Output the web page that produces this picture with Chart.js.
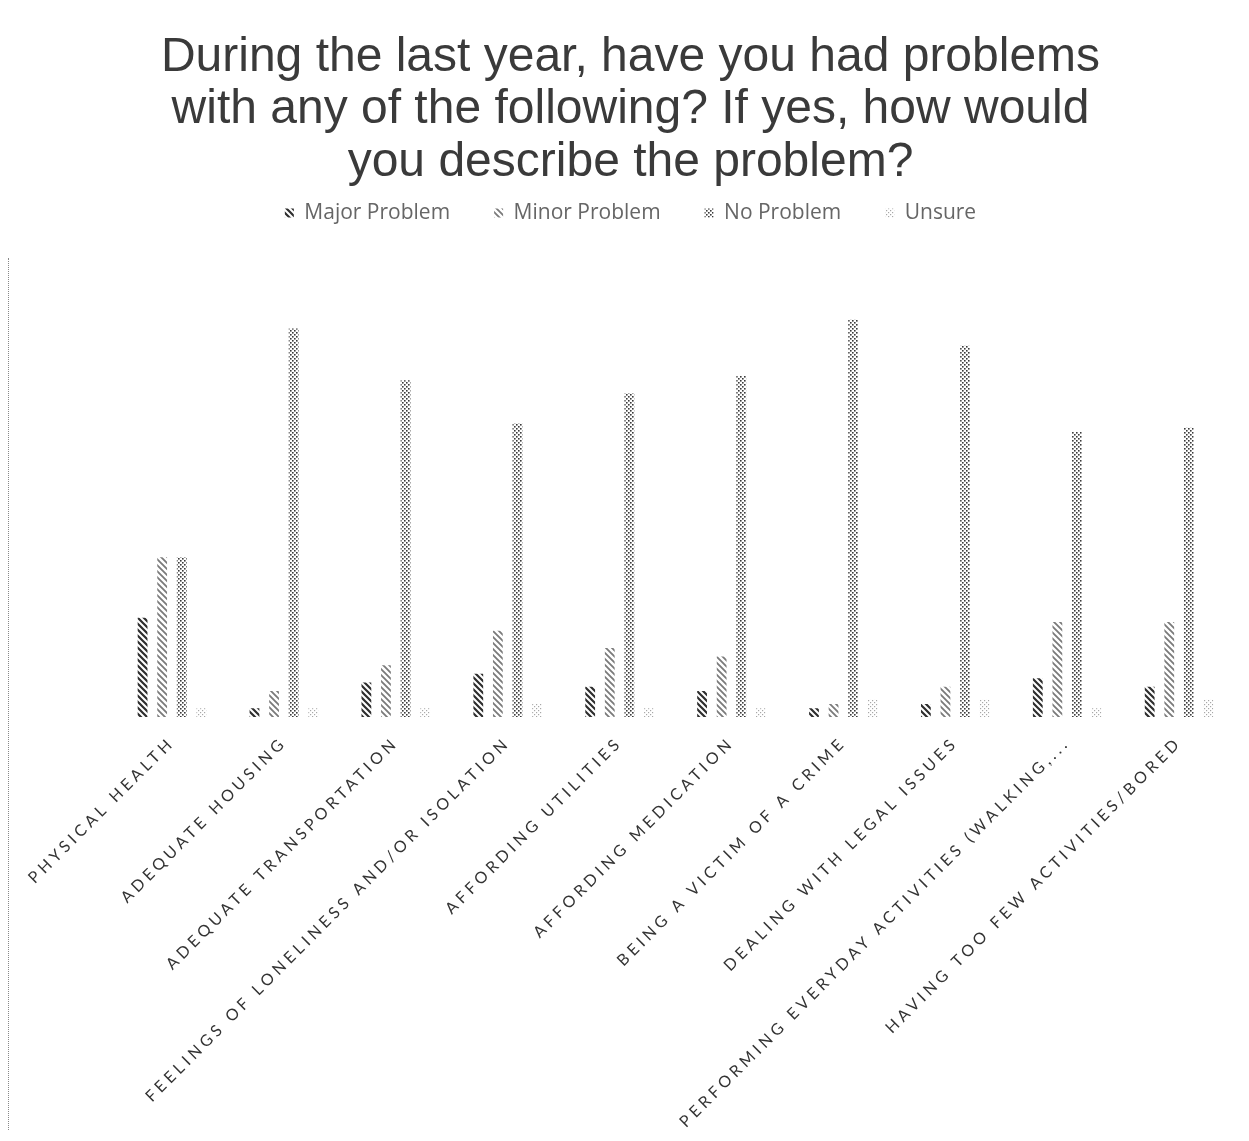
<!DOCTYPE html>
<html>
<head>
<meta charset="utf-8">
<script src="https://cdn.jsdelivr.net/npm/chart.js@4.4.1/dist/chart.umd.min.js"></script>
<style>
  html, body { margin: 0; padding: 0; background: #fff; }
  #wrap { position: relative; width: 1249px; height: 1141px; }
  #edge { position: absolute; left: 8px; top: 258px; height: 872px; border-left: 1px dotted #888; }
</style>
</head>
<body>
<div id="wrap">
  <div id="edge"></div>
  <canvas id="chart"></canvas>
</div>
<script>
const categories = [
  "PHYSICAL HEALTH",
  "ADEQUATE HOUSING",
  "ADEQUATE TRANSPORTATION",
  "FEELINGS OF LONELINESS AND/OR ISOLATION",
  "AFFORDING UTILITIES",
  "AFFORDING MEDICATION",
  "BEING A VICTIM OF A CRIME",
  "DEALING WITH LEGAL ISSUES",
  "PERFORMING EVERYDAY ACTIVITIES (WALKING,...",
  "HAVING TOO FEW ACTIVITIES/BORED",
];

// percent of respondents
const majorProblem = [23, 2, 8, 10, 7, 6, 2, 3, 9, 7];
const minorProblem = [37, 6, 12, 20, 16, 14, 3, 7, 22, 22];
const noProblem = [37, 90, 78, 68, 75, 79, 92, 86, 66, 67];
const unsure = [2, 2, 2, 3, 2, 2, 4, 4, 2, 4];

const titleLines = [
  "During the last year, have you had problems",
  "with any of the following? If yes, how would",
  "you describe the problem?",
];

function makePattern(size, draw) {
  const c = document.createElement("canvas");
  c.width = size;
  c.height = size;
  const g = c.getContext("2d");
  g.fillStyle = "#fff";
  g.fillRect(0, 0, size, size);
  draw(g, size);
  return g.createPattern(c, "repeat");
}

function diagonal(color, width) {
  return makePattern(6, (g, s) => {
    g.strokeStyle = color;
    g.lineWidth = width;
    g.beginPath();
    g.moveTo(-1, -1); g.lineTo(s + 1, s + 1);
    g.moveTo(s - 1, -1); g.lineTo(s + 1, 1);
    g.moveTo(-1, s - 1); g.lineTo(1, s + 1);
    g.stroke();
  });
}

function dots(color, dot) {
  return makePattern(4, (g) => {
    g.fillStyle = color;
    g.fillRect(0, 0, dot, dot);
    g.fillRect(2, 2, dot, dot);
  });
}

const PATTERN = {
  major: diagonal("#2e2e2e", 2.2),
  minor: diagonal("#7a7a7a", 1.8),
  none: dots("#3a3a3a", 1.6),
  unsure: dots("#a8a8a8", 1.2),
};

// x labels are spaced out in the original, so draw them with letter spacing
class SpacedCategory extends Chart.CategoryScale {
  drawLabels(area) {
    this.ctx.save();
    this.ctx.letterSpacing = "4px";
    super.drawLabels(area);
    this.ctx.restore();
  }
}
SpacedCategory.id = "spacedCategory";
SpacedCategory.defaults = Chart.CategoryScale.defaults;
Chart.register(SpacedCategory);

function dataset(label, data, pattern) {
  return {
    label,
    data,
    backgroundColor: pattern,
    borderWidth: 0,
    categoryPercentage: 0.7,
    barPercentage: 0.5,
  };
}

new Chart(document.getElementById("chart").getContext("2d"), {
  type: "bar",
  data: {
    labels: categories,
    datasets: [
      dataset("Major Problem", majorProblem, PATTERN.major),
      dataset("Minor Problem", minorProblem, PATTERN.minor),
      dataset("No Problem", noProblem, PATTERN.none),
      dataset("Unsure", unsure, PATTERN.unsure),
    ],
  },
  options: {
    responsive: true,
    maintainAspectRatio: false,
    animation: false,
    layout: { padding: { left: 26, right: 14, top: 31, bottom: 0 } },
    plugins: {
      title: {
        display: true,
        text: titleLines,
        color: "#3a3a3a",
        font: { family: "'Liberation Sans', Arial, sans-serif", size: 48, weight: "normal", lineHeight: 1.1 },
        padding: { top: 0, bottom: -31 },
      },
      legend: {
        position: "top",
        labels: {
          color: "#666",
          font: { family: "'Open Sans', sans-serif", size: 21 },
          boxWidth: 9,
          boxHeight: 9,
          padding: 44,
        },
      },
      tooltip: { enabled: false },
    },
    scales: {
      x: {
        type: "spacedCategory",
        grid: { display: false, drawTicks: false },
        border: { display: false },
        ticks: {
          color: "#333",
          font: { family: "Lato, sans-serif", size: 16 },
          maxRotation: 45,
          minRotation: 45,
          autoSkip: false,
          padding: 16,
        },
        afterFit: (s) => { s.height = 424; },
      },
      y: {
        display: true,
        min: 0,
        max: 112,
        grid: { display: false },
        border: { display: false },
        ticks: { display: false },
        afterFit: (s) => { s.width = 90; },
      },
    },
  },
});
</script>
</body>
</html>
